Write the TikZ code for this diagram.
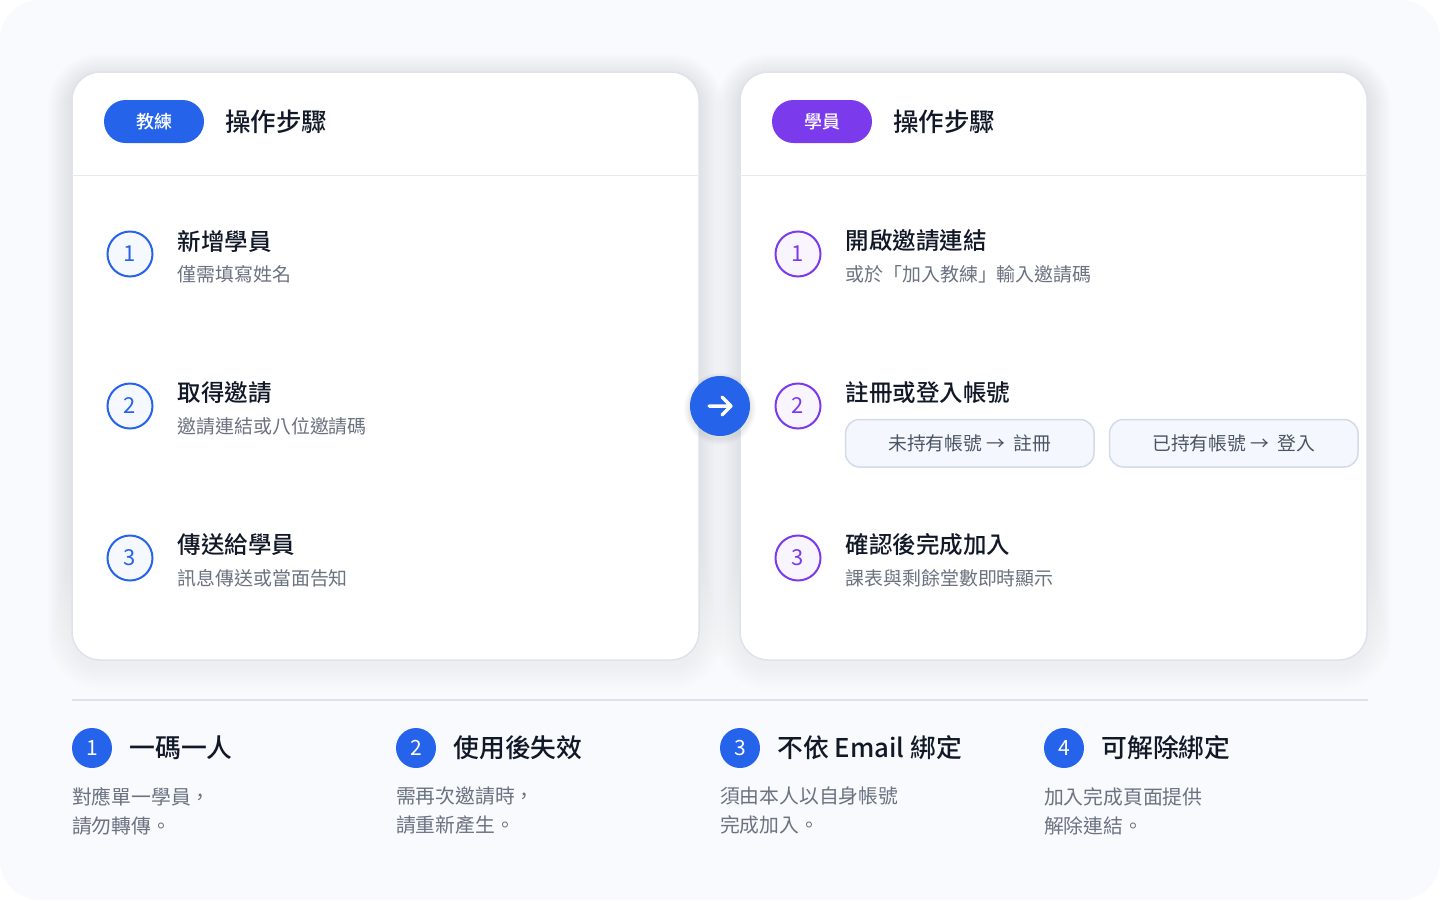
\documentclass[tikz,border=0pt]{standalone}
\usepackage{fontspec}
\setmainfont{Noto Sans CJK TC}
\newfontfamily\medfont{Noto Sans CJK TC Medium}
\usetikzlibrary{positioning}

\definecolor{coachblue}{HTML}{2563EB}
\definecolor{studpurple}{HTML}{7C3AED}
\definecolor{ink}{HTML}{111827}
\definecolor{mute}{HTML}{6B7280}
\definecolor{pilltext}{HTML}{4B5563}
\definecolor{cardline}{HTML}{DDE2ED}
\definecolor{sepline}{HTML}{E6E9F0}
\definecolor{pagebg}{HTML}{F8FAFD}
\definecolor{pillbg}{HTML}{F4F7FD}
\definecolor{pillline}{HTML}{D3DBE9}
\definecolor{bluefill}{HTML}{F5F8FF}
\definecolor{purplefill}{HTML}{F8F5FF}
\definecolor{shade}{HTML}{1E2A50}

\newcommand{\fs}[2]{\fontsize{#1}{#2}\selectfont}

\begin{document}
\begin{tikzpicture}[x=1pt,y=-1pt,node distance=152pt,
    card/.style={draw=cardline,line width=1.5pt,fill=white,rounded corners=28pt,minimum width=627pt,minimum height=588pt},
    badge/.style={rounded corners=21.5pt,minimum width=100pt,minimum height=43pt,inner sep=0pt,text=white,font=\medfont\fs{18}{22}},
    head/.style={inner sep=0pt,text=ink,font=\medfont\fs{25.5}{30}},
    stepc/.style={circle,line width=2pt,minimum size=45pt,inner sep=0pt,font=\fs{22}{26}},
    title/.style={anchor=west,inner sep=0pt,text=ink,font=\medfont\fs{23.5}{28}},
    sub/.style={anchor=west,inner sep=0pt,text=mute,font=\fs{18.9}{22}},
    pill/.style={draw=pillline,line width=1.5pt,fill=pillbg,rounded corners=14pt,minimum width=248.5pt,minimum height=47.5pt,inner sep=0pt,text=pilltext,font=\fs{18.8}{22}},
    dot/.style={circle,fill=coachblue,minimum size=40pt,inner sep=0pt,text=white,font=\fs{21}{24}},
    note/.style={inner sep=0pt,text=ink,font=\medfont\fs{25.8}{30}},
    desc/.style={anchor=north west,align=left,inner sep=0pt,text=mute,font=\fs{19.8}{29}}]

    % page
    \fill[white] (0,0) rectangle (1440,900);
    \fill[pagebg, rounded corners=40pt] (0,0) rectangle (1440,900);
    \useasboundingbox (0,0) rectangle (1440,900);

    % soft shadows under the cards
    \foreach \s [evaluate=\s as \r using 28+\s] in {2,4,...,24} {
        \fill[shade, opacity=0.0035, rounded corners=\r pt] (72-\s,78-\s) rectangle (699+\s,666+\s);
        \fill[shade, opacity=0.0035, rounded corners=\r pt] (740-\s,78-\s) rectangle (1367+\s,666+\s);
    }

    % cards
    \node[card] (lcard) at (385.5,366) {};
    \node[card] (rcard) at (1053.5,366) {};
    \draw[sepline, line width=1.5pt] ([yshift=-104pt]lcard.north west) -- ([yshift=-104pt]lcard.north east);
    \draw[sepline, line width=1.5pt] ([yshift=-104pt]rcard.north west) -- ([yshift=-104pt]rcard.north east);

    % coach side
    \node[badge, fill=coachblue] (cb) at (154,121.5) {教練};
    \node[head] (ch) [right=21pt of cb] {操作步驟};

    \node[stepc, draw=coachblue, fill=bluefill, text=coachblue] (l1) at (130,254) {1};
    \node[stepc, draw=coachblue, fill=bluefill, text=coachblue] (l2) [below of=l1] {2};
    \node[stepc, draw=coachblue, fill=bluefill, text=coachblue] (l3) [below of=l2] {3};

    \node[title] (lt1) at ([xshift=24pt,yshift=13pt]l1.east) {新增學員};
    \node[sub] (ls1) at ([yshift=-33pt]lt1.west) {僅需填寫姓名};
    \node[title] (lt2) at ([xshift=24pt,yshift=13pt]l2.east) {取得邀請};
    \node[sub] (ls2) at ([yshift=-33pt]lt2.west) {邀請連結或八位邀請碼};
    \node[title] (lt3) at ([xshift=24pt,yshift=13pt]l3.east) {傳送給學員};
    \node[sub] (ls3) at ([yshift=-33pt]lt3.west) {訊息傳送或當面告知};

    % student side
    \node[badge, fill=studpurple] (sb) at (822,121.5) {學員};
    \node[head] (sh) [right=21pt of sb] {操作步驟};

    \node[stepc, draw=studpurple, fill=purplefill, text=studpurple] (r1) at (798,254) {1};
    \node[stepc, draw=studpurple, fill=purplefill, text=studpurple] (r2) [below of=r1] {2};
    \node[stepc, draw=studpurple, fill=purplefill, text=studpurple] (r3) [below of=r2] {3};

    \node[title] (rt1) at ([xshift=24pt,yshift=13pt]r1.east) {開啟邀請連結};
    \node[sub] (rs1) at ([yshift=-33pt]rt1.west) {或於「加入教練」輸入邀請碼};
    \node[title] (rt2) at ([xshift=24pt,yshift=13pt]r2.east) {註冊或登入帳號};
    \node[pill, anchor=north west] (p1) at (844.75,418.75) {未持有帳號\ → \ 註冊};
    \node[pill] (p2) [right=14pt of p1] {已持有帳號\ → \ 登入};
    \node[title] (rt3) at ([xshift=24pt,yshift=13pt]r3.east) {確認後完成加入};
    \node[sub] (rs3) at ([yshift=-33pt]rt3.west) {課表與剩餘堂數即時顯示};

    % go arrow
    \foreach \s in {1,2,...,6} {
        \fill[shade, opacity=0.012] (720,409) circle ({30+\s});
    }
    \node[circle, fill=coachblue, minimum size=60pt] (go) at (720,406) {};
    \draw[white, line width=3.5pt, line cap=round, line join=round]
        ([xshift=-11pt]go.center) -- ([xshift=11pt]go.center)
        ([xshift=2pt,yshift=9pt]go.center) -- ([xshift=11pt]go.center) -- ([xshift=2pt,yshift=-9pt]go.center);

    % notes
    \coordinate (dl) at (72,700);
    \coordinate (dr) at (1368,700);
    \draw[cardline, line width=1.5pt] (dl) -- (dr);

    \node[dot] (b1) at (92,748) {1};
    \node[dot] (b2) [right of=b1, node distance=324pt] {2};
    \node[dot] (b3) [right of=b2, node distance=324pt] {3};
    \node[dot] (b4) [right of=b3, node distance=324pt] {4};

    \node[note] (n1) [right=17pt of b1] {一碼一人};
    \node[note] (n2) [right=17pt of b2] {使用後失效};
    \node[note] (n3) [right=17pt of b3] {不依 Email 綁定};
    \node[note] (n4) [right=17pt of b4] {可解除綁定};

    \node[desc] (d1) at ([yshift=-39pt]b1.west) {對應單一學員，\\請勿轉傳。};
    \node[desc] (d2) at ([yshift=-39pt]b2.west) {需再次邀請時，\\請重新產生。};
    \node[desc] (d3) at ([yshift=-39pt]b3.west) {須由本人以自身帳號\\完成加入。};
    \node[desc] (d4) at ([yshift=-39pt]b4.west) {加入完成頁面提供\\解除連結。};

\end{tikzpicture}
\end{document}
